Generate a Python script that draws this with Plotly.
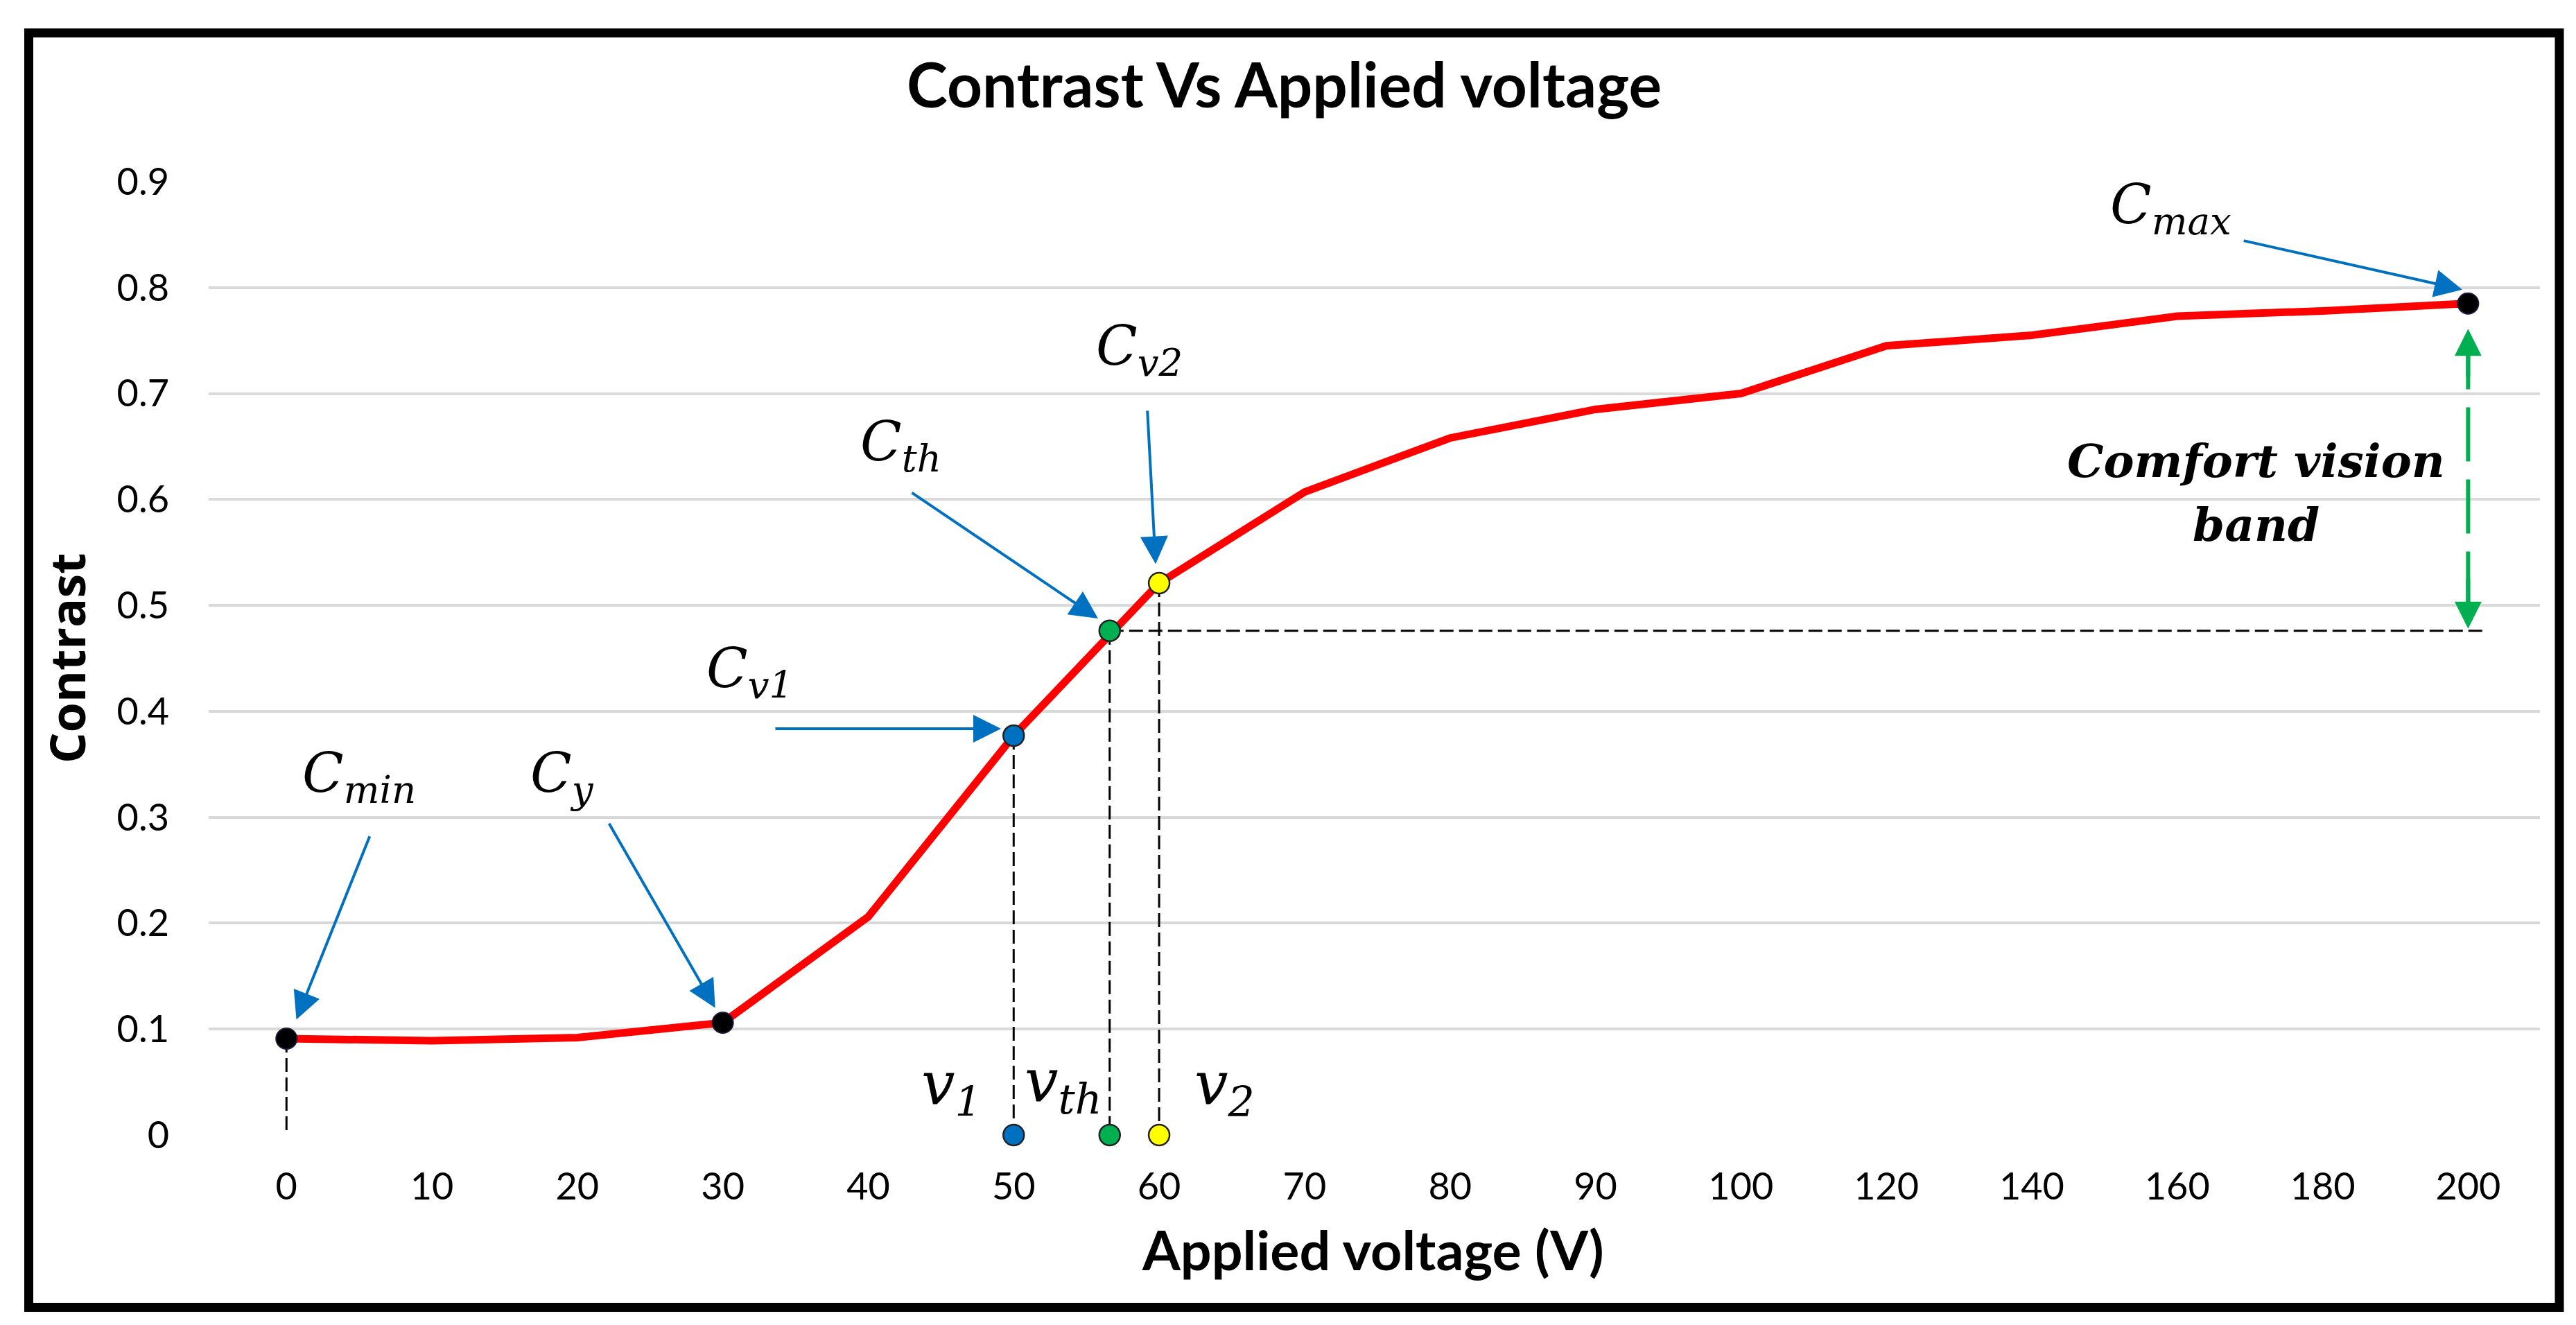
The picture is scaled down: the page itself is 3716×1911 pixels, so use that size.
import numpy as np
import plotly.graph_objects as go

# ---------------- data ----------------
voltage_cats = [0, 10, 20, 30, 40, 50, 60, 70, 80, 90, 100, 120, 140, 160, 180, 200]
tick_labels = [str(v) for v in voltage_cats]
contrast = [0.091, 0.089, 0.092, 0.106, 0.206, 0.377, 0.521, 0.607, 0.658, 0.685,
            0.700, 0.745, 0.755, 0.773, 0.778, 0.785]

# key voltages / contrasts
v_min, v_y, v_max = 0, 30, 200
c_min, c_y, c_max = 0.091, 0.106, 0.785
v1, vth, v2 = 50, 56.6, 60
c_v1, c_th, c_v2 = 0.377, 0.476, 0.521
point_colors = ["#0070C0", "#00B050", "#FFFF00"]

cat_pos = list(range(len(voltage_cats)))


def pos(v):
    # position of a voltage on the (equally spaced) category axis
    return float(np.interp(v, voltage_cats, cat_pos))


# ---------------- figure ----------------
W, H = 3716, 1911
L, R, T, B = 293, 60, 254, 282
PW, PH = W - L - R, H - T - B


def px_x(px):
    return (px - L) / PW


def px_y(py):
    return (H - B - py) / PH


fig = go.Figure()

dash_black = dict(color="black", width=3, dash="20px,8px")

# dashed guide lines
for v, c in [(v_min, c_min), (v1, c_v1), (vth, c_th), (v2, c_v2)]:
    fig.add_trace(go.Scatter(x=[pos(v), pos(v)], y=[c, 0], mode="lines",
                             line=dash_black, hoverinfo="skip", showlegend=False,
                             cliponaxis=False))
fig.add_trace(go.Scatter(x=[pos(vth), 15.13], y=[c_th, c_th], mode="lines",
                         line=dash_black, hoverinfo="skip", showlegend=False,
                         cliponaxis=False))

# green dashed comfort band line
fig.add_trace(go.Scatter(x=[pos(v_max), pos(v_max)], y=[c_max - 0.03, c_th + 0.02],
                         mode="lines",
                         line=dict(color="#00B050", width=6, dash="78px,26px"),
                         hoverinfo="skip", showlegend=False))

# red contrast curve
fig.add_trace(go.Scatter(x=cat_pos, y=contrast, mode="lines",
                         line=dict(color="#FF0000", width=11),
                         hoverinfo="skip", showlegend=False))

# black key points
fig.add_trace(go.Scatter(x=[pos(v_min), pos(v_y), pos(v_max)], y=[c_min, c_y, c_max],
                         mode="markers",
                         marker=dict(size=30, color="black", line=dict(color="#1a1a3a", width=2)),
                         showlegend=False, cliponaxis=False))

# coloured points on curve and on axis
fig.add_trace(go.Scatter(x=[pos(v1), pos(vth), pos(v2)], y=[c_v1, c_th, c_v2],
                         mode="markers",
                         marker=dict(size=30, color=point_colors, line=dict(color="#222222", width=2.5)),
                         showlegend=False, cliponaxis=False))
fig.add_trace(go.Scatter(x=[pos(v1), pos(vth), pos(v2)], y=[0, 0, 0],
                         mode="markers",
                         marker=dict(size=30, color=point_colors, line=dict(color="#222222", width=2.5)),
                         showlegend=False, cliponaxis=False))

annotations = []

# blue arrows: (tail_x, tail_y, tip_x, tip_y)
blue_arrows = [
    (0.575, 0.283, 0.068, 0.109),
    (2.214, 0.295, 2.948, 0.120),
    (3.354, 0.3836, 4.913, 0.3836),
    (4.293, 0.607, 5.580, 0.4876),
    (5.919, 0.6847, 5.976, 0.539),
    (13.45, 0.8445, 14.96, 0.798),
]
for tx, ty, hx, hy in blue_arrows:
    annotations.append(dict(x=hx, y=hy, ax=tx, ay=ty, xref="x", yref="y",
                            axref="x", ayref="y", text="", showarrow=True,
                            arrowhead=2, arrowsize=2.0, arrowwidth=4,
                            arrowcolor="#0070C0", standoff=0))

# green arrowheads
for tip, tail in [(c_max - 0.024, c_max - 0.07), (c_th + 0.002, c_th + 0.05)]:
    annotations.append(dict(x=pos(v_max), y=tip, ax=pos(v_max), ay=tail, xref="x", yref="y",
                            axref="x", ayref="y", text="", showarrow=True,
                            arrowhead=2, arrowsize=1.3, arrowwidth=6,
                            arrowcolor="#00B050", standoff=0))

math_font = dict(family="DejaVu Serif, Liberation Serif, serif", size=78, color="black")
v_font = dict(family="DejaVu Serif, Liberation Serif, serif", size=86, color="black")

labels = [
    ("<i>C<sub>min</sub></i>", 0.497, 0.338, math_font),
    ("<i>C<sub>y</sub></i>", 1.897, 0.338, math_font),
    ("<i>C<sub>v1</sub></i>", 3.185, 0.437, math_font),
    ("<i>C<sub>th</sub></i>", 4.225, 0.651, math_font),
    ("<i>C<sub>v2</sub></i>", 5.863, 0.741, math_font),
    ("<i>C<sub>max</sub></i>", 12.957, 0.875, math_font),
    ("<i>v<sub>1</sub></i>", 4.574, 0.045, v_font),
    ("<i>v<sub>th</sub></i>", 5.342, 0.048, v_font),
    ("<i>v<sub>2</sub></i>", 6.45, 0.045, v_font),
]
for txt, x, y, f in labels:
    annotations.append(dict(x=x, y=y, xref="x", yref="y", text=txt, showarrow=False,
                            font=f, xanchor="center", yanchor="middle"))

band_font = dict(family="DejaVu Serif, Liberation Serif, serif", size=66, color="black")
annotations.append(dict(x=13.544, y=0.636, xref="x", yref="y",
                        text="<b><i>Comfort vision</i></b>", showarrow=False,
                        font=band_font, xanchor="center", yanchor="middle"))
annotations.append(dict(x=13.544, y=0.576, xref="x", yref="y",
                        text="<b><i>band</i></b>", showarrow=False,
                        font=band_font, xanchor="center", yanchor="middle"))

# titles
annotations.append(dict(x=px_x(1844), y=px_y(112), xref="paper", yref="paper",
                        text="<b>Contrast Vs Applied voltage</b>", showarrow=False,
                        font=dict(family="Lato, sans-serif", size=89, color="black"),
                        xanchor="center", yanchor="middle"))
annotations.append(dict(x=px_x(1972), y=px_y(1793), xref="paper", yref="paper",
                        text="<b>Applied voltage (V)</b>", showarrow=False,
                        font=dict(family="Lato, sans-serif", size=79, color="black"),
                        xanchor="center", yanchor="middle"))
annotations.append(dict(x=px_x(88), y=px_y(941), xref="paper", yref="paper",
                        text="<b>Contrast</b>", showarrow=False, textangle=-90,
                        font=dict(family="Open Sans, sans-serif", size=70, color="black"),
                        xanchor="center", yanchor="middle"))

# outer frame
shapes = [dict(type="rect", xref="paper", yref="paper",
               x0=px_x(33.5), x1=px_x(3684), y0=px_y(1877.5), y1=px_y(39.5),
               line=dict(color="black", width=13), fillcolor="rgba(0,0,0,0)",
               layer="above")]

tick_font = dict(family="Lato, sans-serif", size=54, color="black")

fig.update_layout(
    width=W, height=H,
    margin=dict(l=L, r=R, t=T, b=B, autoexpand=False),
    paper_bgcolor="white", plot_bgcolor="white",
    showlegend=False,
    annotations=annotations,
    shapes=shapes,
    xaxis=dict(range=[-0.535, 15.494], tickvals=cat_pos, ticktext=tick_labels,
               showgrid=False, zeroline=False, showline=False, ticks="",
               tickfont=tick_font, ticklabelstandoff=38, fixedrange=True),
    yaxis=dict(range=[0, 0.9], tickvals=[0, 0.1, 0.2, 0.3, 0.4, 0.5, 0.6, 0.7, 0.8, 0.9],
               ticktext=["0", "0.1", "0.2", "0.3", "0.4", "0.5", "0.6", "0.7", "0.8", "0.9"],
               showgrid=True, gridcolor="#d9d9d9", gridwidth=4,
               zeroline=False, showline=False, ticks="",
               tickfont=tick_font, ticklabelstandoff=56, fixedrange=True),
)

fig.write_html("out.html")
